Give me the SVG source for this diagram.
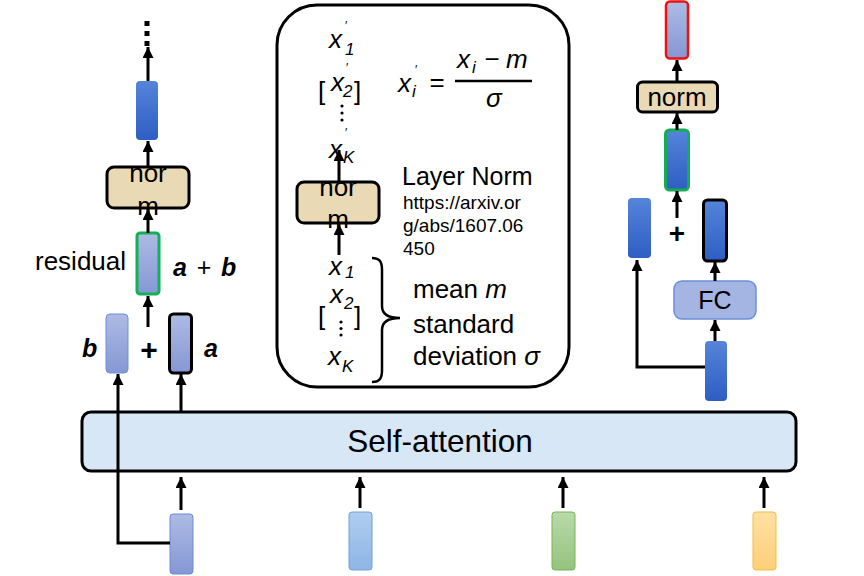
<svg xmlns="http://www.w3.org/2000/svg" width="864" height="576" viewBox="0 0 864 576">
<defs>
<linearGradient id="gDark" x1="0" y1="0" x2="0" y2="1"><stop offset="0" stop-color="#5584da"/><stop offset="1" stop-color="#2e5ec2"/></linearGradient>
<linearGradient id="gLight" x1="0" y1="0" x2="0" y2="1"><stop offset="0" stop-color="#adbbe4"/><stop offset="1" stop-color="#8597d4"/></linearGradient>
<linearGradient id="gSky" x1="0" y1="0" x2="0" y2="1"><stop offset="0" stop-color="#b0cdef"/><stop offset="1" stop-color="#8db5e6"/></linearGradient>
<linearGradient id="gGreen" x1="0" y1="0" x2="0" y2="1"><stop offset="0" stop-color="#b9d9aa"/><stop offset="1" stop-color="#95c37d"/></linearGradient>
<linearGradient id="gYellow" x1="0" y1="0" x2="0" y2="1"><stop offset="0" stop-color="#ffe0a4"/><stop offset="1" stop-color="#fdcf78"/></linearGradient>
<marker id="ah" viewBox="0 0 10 10" refX="10" refY="5" markerWidth="11" markerHeight="11" markerUnits="userSpaceOnUse" orient="auto"><path d="M0,0 L10,5 L0,10 z" fill="#000"/></marker>
</defs>
<style>
text{font-family:"Liberation Sans",Arial,Helvetica,sans-serif;fill:#000}
.t26{font-size:26px}
.it{font-style:italic}
.bi{font-style:italic;font-weight:bold}
.sub{font-size:17px;font-style:italic}
.pr{font-size:12px}
.norm{fill:#e9d9b5;stroke:#000;stroke-width:3}
.dark{fill:url(#gDark)}
.light{fill:url(#gLight)}
.conn{stroke:#000;stroke-width:3;fill:none;marker-end:url(#ah)}
</style>
<rect width="864" height="576" fill="#fff"/>

<!-- Self-attention -->
<g id="self-attention">
<rect x="82" y="412" width="714" height="59" rx="9" fill="#d7e7f6" stroke="#000" stroke-width="3"/>
<text x="440" y="452" font-size="31.5" text-anchor="middle">Self-attention</text>
</g>

<!-- Inputs -->
<g id="in1"><rect x="170" y="514" width="23" height="60" rx="3" fill="url(#gLight)" stroke="#6b8bd6" stroke-width="1"/></g>
<g id="in2"><rect x="349" y="512" width="23" height="58" rx="3" fill="url(#gSky)" stroke="#6ea0dc" stroke-width="1"/></g>
<g id="in3"><rect x="552" y="512" width="23" height="58" rx="3" fill="url(#gGreen)" stroke="#78b358" stroke-width="1"/></g>
<g id="in4"><rect x="753" y="512" width="23" height="58" rx="3" fill="url(#gYellow)" stroke="#f3bd3a" stroke-width="1"/></g>

<!-- Left column -->
<g id="dots-left">
<rect x="144.5" y="21" width="5" height="5"/>
<rect x="144.5" y="31" width="5" height="5"/>
<rect x="144.5" y="41" width="5" height="5"/>
</g>
<g id="left-out"><rect x="136" y="81" width="22" height="59" rx="4" class="dark"/></g>
<g id="left-norm">
<rect x="107" y="167" width="82" height="41" rx="7" class="norm"/>
<text x="148" y="182" class="t26" text-anchor="middle">nor</text>
<text x="148" y="215" class="t26" text-anchor="middle">m</text>
</g>
<g id="left-sum">
<rect x="137" y="233" width="22" height="61" rx="3" class="light" stroke="#13b057" stroke-width="3"/>
<text x="35" y="270" class="t26">residual</text>
<text x="173" y="276" font-size="25" class="bi">a</text>
<text x="204" y="276" font-size="25" text-anchor="middle">+</text>
<text x="221" y="276" font-size="25" class="bi">b</text>
</g>
<g id="left-b">
<rect x="106" y="314" width="22" height="59" rx="4" class="light" stroke="#6d8fdc" stroke-width="1"/>
<text x="82" y="357" font-size="25" class="bi">b</text>
</g>
<text x="149" y="360" font-size="30" font-weight="bold" text-anchor="middle">+</text>
<g id="left-a">
<rect x="169.5" y="314" width="22" height="59" rx="4" class="light" stroke="#000" stroke-width="3"/>
<text x="204" y="357" font-size="25" class="bi">a</text>
</g>

<!-- Center panel -->
<g id="layer-norm-panel">
<rect x="277" y="5" width="292" height="382" rx="40" fill="#fff" stroke="#000" stroke-width="3"/>
<!-- top vector -->
<text x="329" y="48" class="t26 it">x</text><text x="345" y="30" class="pr">′</text><text x="345" y="55" class="sub" font-style="normal">1</text>
<text x="318" y="100" class="t26">[</text>
<text x="331" y="91" class="t26 it">x</text><text x="346" y="72" class="pr">′</text><text x="343" y="97" class="sub" font-style="normal">2</text>
<text x="354" y="100" class="t26">]</text>
<circle cx="342" cy="106" r="1.6"/><circle cx="342" cy="113" r="1.6"/><circle cx="342" cy="120" r="1.6"/>
<text x="329" y="158" class="t26 it">x</text><text x="345" y="137" class="pr">′</text><text x="343" y="163" class="sub">K</text>

<!-- formula -->
<text x="398" y="92" class="t26 it">x</text><text x="415" y="74" class="pr">′</text><text x="412" y="97" class="sub">i</text>
<text x="437" y="91" class="t26" text-anchor="middle">=</text>
<text x="457" y="68" class="t26 it">x</text><text x="472" y="73" class="sub">i</text>
<text x="492" y="68" class="t26" text-anchor="middle">−</text>
<text x="506" y="68" class="t26 it">m</text>
<line x1="455" y1="81" x2="532" y2="81" stroke="#000" stroke-width="2.5"/>
<text x="486" y="107" class="t26 it">σ</text>

<!-- bottom vector -->
<text x="329" y="275" class="t26 it">x</text><text x="345" y="278" class="sub" font-style="normal">1</text>
<text x="318" y="325" class="t26">[</text>
<text x="330" y="303" class="t26 it">x</text><text x="344" y="309" class="sub" font-style="normal">2</text>
<text x="354" y="325" class="t26">]</text>
<circle cx="341" cy="322" r="1.6"/><circle cx="341" cy="328.5" r="1.6"/><circle cx="341" cy="335" r="1.6"/>
<text x="328" y="365" class="t26 it">x</text><text x="342" y="372" class="sub">K</text>
<path d="M372,258 C380,258 382,262 382,270 L382,306 C382,314 388,318 400,318 C388,318 382,322 382,330 L382,370 C382,378 380,382 372,382" fill="none" stroke="#000" stroke-width="2.5"/>
<text x="413" y="298" class="t26">mean <tspan class="it">m</tspan></text>
<text x="413" y="333" class="t26">standard</text>
<text x="413" y="365" class="t26">deviation <tspan class="it">σ</tspan></text>

<text x="402" y="185" font-size="25">Layer Norm</text>
<text x="403" y="209" font-size="19">https://arxiv.or</text>
<text x="403" y="232" font-size="19">g/abs/1607.06</text>
<text x="403" y="255" font-size="19">450</text>
</g>
<g id="center-norm">
<rect x="297" y="182" width="82" height="41" rx="7" class="norm"/>
<text x="338" y="196" class="t26" text-anchor="middle">nor</text>
<text x="338" y="228" class="t26" text-anchor="middle">m</text>
</g>

<!-- Right column -->
<g id="right-out"><rect x="666" y="1.5" width="22" height="57" rx="4" class="light" stroke="#f01010" stroke-width="2.5"/></g>
<g id="right-norm">
<rect x="637.5" y="82" width="80" height="30" rx="5" class="norm"/>
<text x="677" y="106" class="t26" text-anchor="middle">norm</text>
</g>
<g id="right-sum"><rect x="665.5" y="130" width="23" height="60" rx="4" class="dark" stroke="#14ad55" stroke-width="3"/></g>
<text x="677" y="243" font-size="28" font-weight="bold" text-anchor="middle">+</text>
<g id="right-res"><rect x="628" y="198" width="23" height="60" rx="4" class="dark"/></g>
<g id="right-fcout"><rect x="703.5" y="200" width="23" height="61" rx="4" class="dark" stroke="#000" stroke-width="3"/></g>
<g id="fc">
<rect x="674" y="281" width="82" height="38" rx="8" fill="#a4b4e3" stroke="#6c8fd9" stroke-width="1.5"/>
<text x="715" y="309" font-size="25" text-anchor="middle">FC</text>
</g>
<g id="right-in"><rect x="705" y="341" width="22" height="60" rx="4" class="dark"/></g>

<!-- Connectors -->
<g id="connectors">
<line x1="148" y1="81" x2="148" y2="47" class="conn"/>
<line x1="148" y1="167" x2="148" y2="141" class="conn"/>
<line x1="148" y1="233" x2="148" y2="209" class="conn"/>
<line x1="148" y1="327" x2="148" y2="296" class="conn"/>
<polyline points="170,543 118,543 118,374" class="conn"/>
<line x1="181" y1="411" x2="181" y2="374" class="conn"/>
<line x1="181" y1="510" x2="181" y2="477" class="conn"/>
<line x1="360" y1="508" x2="360" y2="477" class="conn"/>
<line x1="563" y1="508" x2="563" y2="477" class="conn"/>
<line x1="764" y1="508" x2="764" y2="477" class="conn"/>
<line x1="339" y1="255" x2="339" y2="224" class="conn"/>
<line x1="339" y1="182" x2="339" y2="150" class="conn"/>
<line x1="677" y1="82" x2="677" y2="60" class="conn"/>
<line x1="677" y1="130" x2="677" y2="113" class="conn"/>
<line x1="677" y1="218" x2="677" y2="191" class="conn"/>
<line x1="715" y1="281" x2="715" y2="262" class="conn"/>
<line x1="715" y1="341" x2="715" y2="320" class="conn"/>
<polyline points="705,367 637,367 637,260" class="conn"/>
</g>
</svg>
